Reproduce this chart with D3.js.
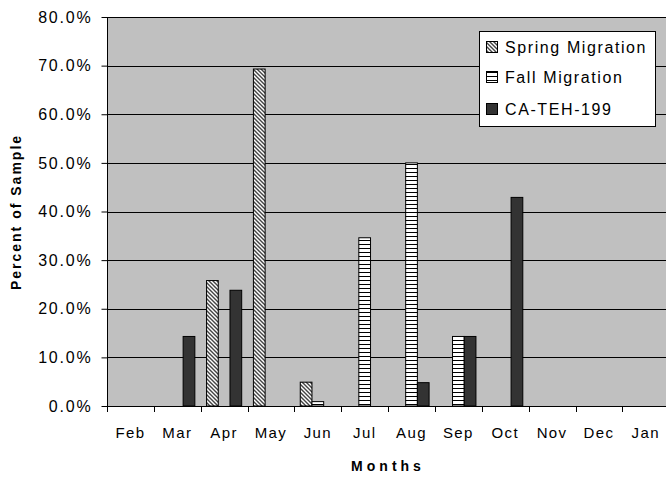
<!DOCTYPE html>
<html><head><meta charset="utf-8">
<script src="https://cdn.jsdelivr.net/npm/d3@7"></script>
<style>
html,body{margin:0;padding:0;background:#fff;}
text{font-family:"Liberation Sans",Arial,sans-serif;fill:#000;}
</style></head>
<body>
<svg id="c" width="666" height="477"></svg>
<script>
const months = ["Feb","Mar","Apr","May","Jun","Jul","Aug","Sep","Oct","Nov","Dec","Jan"];
const seriesNames = ["Spring Migration","Fall Migration","CA-TEH-199"];
const spring = [0,0,25.8,69.3,4.9,0,0,0,0,0,0,0];
const fall   = [0,0,0,0,0.9,34.6,50.0,14.3,0,0,0,0];
const caTeh  = [0,14.3,23.8,0,0,0,4.8,14.3,42.9,0,0,0];
const yTicks = [0,10,20,30,40,50,60,70,80];

const svg = d3.select("#c");
const defs = svg.append("defs");
const p1 = defs.append("pattern").attr("id","hatchD").attr("patternUnits","userSpaceOnUse")
  .attr("width",4).attr("height",4);
p1.append("rect").attr("width",4).attr("height",4).attr("fill","#fff");
p1.append("path").attr("d","M-1,-1 L5,5 M-1,3 L1,5 M3,-1 L5,1").attr("stroke","#444").attr("stroke-width",1.4);
const p2 = defs.append("pattern").attr("id","hatchH").attr("patternUnits","userSpaceOnUse")
  .attr("width",4).attr("height",4);
p2.append("rect").attr("width",4).attr("height",4).attr("fill","#fff");
p2.append("rect").attr("y",0).attr("width",4).attr("height",1).attr("fill","#000");

const fills = ["url(#hatchD)","url(#hatchH)","#333333"];

const L = 107, R = 107 + 12*46.85, T = 17, B = 406;
const x = d3.scaleBand().domain(months).range([L,R]).paddingInner(0).paddingOuter(0);
const xs = d3.scaleBand().domain(seriesNames).range([0,x.bandwidth()]).paddingInner(0).paddingOuter(0.5);
const y = d3.scaleLinear().domain([0,80]).range([B,T]);

svg.append("rect").attr("x",L).attr("y",T).attr("width",R-L).attr("height",B-T).attr("fill","#c0c0c0");

svg.append("g").selectAll("line").data(yTicks.filter(d=>d>0)).join("line")
  .attr("x1",L).attr("x2",R).attr("y1",d=>Math.round(y(d))+0.5).attr("y2",d=>Math.round(y(d))+0.5)
  .attr("stroke","#000").attr("stroke-width",1);

const allSeries = [spring, fall, caTeh];
allSeries.forEach((vals,si)=>{
  svg.append("g").selectAll("rect").data(months.map((m,i)=>({m,v:vals[i]})).filter(d=>d.v>0)).join("rect")
    .attr("x",d=>x(d.m)+xs(seriesNames[si]))
    .attr("y",d=>y(d.v))
    .attr("width",xs.bandwidth())
    .attr("height",d=>B-y(d.v))
    .attr("fill",fills[si]).attr("stroke","#000").attr("stroke-width",1);
});

const yAxis = d3.axisLeft(y).tickValues(yTicks).tickSize(6).tickPadding(9)
  .tickFormat(d=>d.toFixed(1)+"%");
const gy = svg.append("g").attr("transform",`translate(${L+0.5},0)`).call(yAxis);
gy.select(".domain").attr("stroke","#000").attr("d",`M0,${T}V${B}`);
gy.selectAll("text").attr("font-size",16).attr("letter-spacing","1.8px").style("font-family","'Liberation Sans',Arial,sans-serif");
gy.selectAll(".tick line").attr("stroke","#000");

const gx = svg.append("g").attr("transform",`translate(0,${B+0.5})`)
  .call(d3.axisBottom(x).tickSize(0).tickPadding(21));
gx.select(".domain").attr("d",`M${L},0H${R}`).attr("stroke","#000");
gx.selectAll("text").attr("font-size",15).attr("letter-spacing","1.4px").style("font-family","'Liberation Sans',Arial,sans-serif");
svg.append("g").selectAll("line").data(d3.range(months.length+1)).join("line")
  .attr("x1",i=>Math.round(L+i*x.step())+0.5).attr("x2",i=>Math.round(L+i*x.step())+0.5)
  .attr("y1",B).attr("y2",B+6).attr("stroke","#000");

svg.append("text").attr("transform","translate(21,212) rotate(-90)")
  .attr("text-anchor","middle").attr("font-size",14).attr("font-weight","bold")
  .attr("letter-spacing","2px").text("Percent of Sample");
svg.append("text").attr("x",388).attr("y",471)
  .attr("text-anchor","middle").attr("font-size",14).attr("font-weight","bold")
  .attr("letter-spacing","4px").text("Months");

const lg = svg.append("g");
lg.append("rect").attr("x",479.5).attr("y",31.5).attr("width",176).attr("height",95)
  .attr("fill","#fff").attr("stroke","#000");
const rowsY = [47,77,109];
seriesNames.forEach((s,i)=>{
  lg.append("rect").attr("x",486.5).attr("y",rowsY[i]-5.5).attr("width",11).attr("height",11)
    .attr("fill",fills[i]).attr("stroke","#000");
  lg.append("text").attr("x",505).attr("y",rowsY[i]+5.5).attr("font-size",16)
    .attr("letter-spacing","1.6px").text(s);
});
</script>
</body></html>
